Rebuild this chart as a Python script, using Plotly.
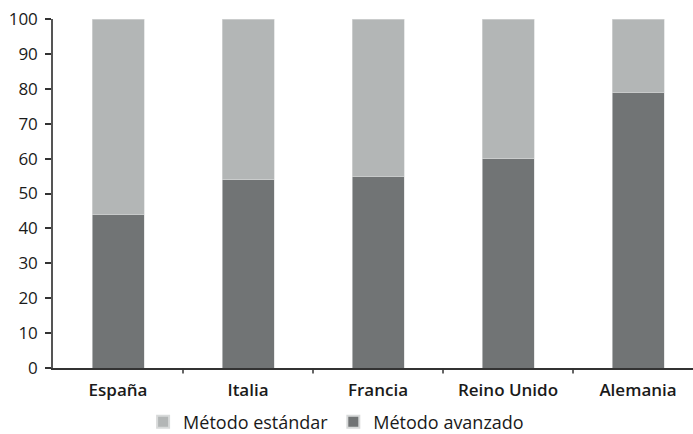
import plotly.graph_objects as go

paises = ["España", "Italia", "Francia", "Reino Unido", "Alemania"]
metodo_avanzado = [44, 54, 55, 60, 79]
metodo_estandar = [56, 46, 45, 40, 21]

OSCURO = "#717475"
CLARO = "#b3b6b6"
FUENTE = "Open Sans"

fig = go.Figure()
fig.add_trace(go.Bar(
    x=list(range(len(paises))), y=metodo_avanzado, name="Método avanzado",
    marker=dict(color=OSCURO, line=dict(color="#d8dada", width=0.6)),
    width=0.4, legendrank=2,
))
fig.add_trace(go.Bar(
    x=list(range(len(paises))), y=metodo_estandar, name="Método estándar",
    marker=dict(color=CLARO, line=dict(color="#d8dada", width=0.6)),
    width=0.4, legendrank=1,
))

fig.update_layout(
    barmode="stack",
    width=693, height=434,
    margin=dict(l=53, r=0, t=19, b=66, autoexpand=False),
    paper_bgcolor="white", plot_bgcolor="white",
    font=dict(family=FUENTE, size=17, color="#1a1a1a"),
    showlegend=True,
    legend=dict(
        orientation="h", x=0.485, xref="container", xanchor="center",
        y=12 / 434, yref="container", yanchor="middle",
        font=dict(family=FUENTE, size=18, color="#1a1a1a"),
        itemsizing="constant", itemwidth=30, traceorder="normal",
    ),
    xaxis=dict(
        range=[-0.5, 4.423],
        tickmode="array", tickvals=list(range(len(paises))), ticktext=paises,
        ticks="", showgrid=False, zeroline=False,
        showline=True, linecolor="#333333", linewidth=1.5,
        tickfont=dict(family=FUENTE, size=17, color="#1a1a1a", weight=600),
        ticklabelstandoff=6,
    ),
    yaxis=dict(
        range=[0, 100], tickmode="linear", tick0=0, dtick=10,
        ticks="outside", ticklen=6, tickwidth=1.5, tickcolor="#333333",
        showgrid=False, zeroline=False,
        showline=True, linecolor="#555555", linewidth=1.5,
        tickfont=dict(family=FUENTE, size=17, color="#1a1a1a"),
        ticklabelstandoff=4,
    ),
)

# Separadores entre categorías sobre el eje horizontal
for i in range(len(paises) - 1):
    fig.add_shape(
        type="line", xref="x", yref="paper",
        x0=i + 0.5, x1=i + 0.5, y0=0, y1=-0.016,
        line=dict(color="#333333", width=1.5),
    )

fig.write_html("out.html")
